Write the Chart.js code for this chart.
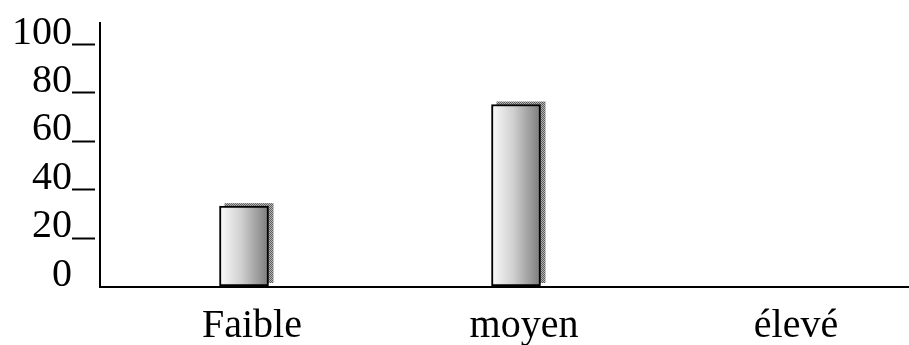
<!DOCTYPE html>
<html lang="fr">
  <head>
    <meta charset="utf-8">
    <title>Niveau</title>
    <style>
      body { margin: 0; overflow: hidden; background: #fff; }
      #wrap { width: 924px; height: 345px; }
    </style>
  </head>
  <body>
    <div id="wrap"><canvas id="myChart"></canvas></div>

    <script src="https://cdn.jsdelivr.net/npm/chart.js@4.4.0/dist/chart.umd.min.js"></script>
    <script>
      const categories = ['Faible', 'moyen', 'élevé'];
      const values = [33, 75, 0];
      const yTicks = [0, 20, 40, 60, 80, 100];

      const serif = 'Liberation Serif';

      // dithered grey used for the bar shadow
      const dots = document.createElement('canvas');
      dots.width = 2; dots.height = 2;
      const dctx = dots.getContext('2d');
      dctx.fillStyle = '#b4b4b4'; dctx.fillRect(0, 0, 2, 2);
      dctx.fillStyle = '#5e5e5e'; dctx.fillRect(0, 0, 1, 1); dctx.fillRect(1, 1, 1, 1);

      const barWidth = 49;

      const axesAndShadow = {
        id: 'axesAndShadow',
        beforeDatasetsDraw(chart) {
          const c = chart.ctx;
          const area = chart.chartArea;
          const y = chart.scales.y;
          c.save();
          c.fillStyle = c.createPattern(dots, 'repeat');
          chart.getDatasetMeta(0).data.forEach(el => {
            if (el.base - el.y < 1) return;
            c.fillRect(el.x - barWidth / 2 + 5, el.y - 3, barWidth, el.base - el.y);
          });
          c.strokeStyle = '#000';
          c.lineWidth = 2;
          // tick marks next to the labels
          yTicks.forEach(v => {
            if (v === 0) return;
            const py = Math.round(y.getPixelForValue(v)) + 0.5;
            c.beginPath();
            c.moveTo(area.left - 36, py);
            c.lineTo(area.left - 13, py);
            c.stroke();
          });
          // axes
          c.beginPath();
          c.moveTo(area.left - 8, area.top - 22);
          c.lineTo(area.left - 8, area.bottom + 1);
          c.lineTo(chart.width, area.bottom + 1);
          c.stroke();
          c.restore();
        }
      };

      const noPad = s => { s.paddingTop = 0; s.paddingBottom = 0; s.paddingLeft = 0; s.paddingRight = 0; };

      const ctx = document.getElementById('myChart').getContext('2d');
      const chart = new Chart(ctx, {
        type: 'bar',
        data: {
          labels: categories,
          datasets: [{
            data: values,
            barThickness: barWidth,
            borderColor: '#000',
            borderWidth: 2,
            borderSkipped: false,
            backgroundColor: context => {
              const ch = context.chart;
              if (!ch.chartArea) return '#ccc';
              const x = ch.scales.x.getPixelForValue(context.dataIndex);
              const g = ch.ctx.createLinearGradient(x - barWidth / 2, 0, x + barWidth / 2, 0);
              g.addColorStop(0, '#fbfbfb');
              g.addColorStop(0.45, '#cfcfcf');
              g.addColorStop(1, '#7c7c7c');
              return g;
            }
          }]
        },
        options: {
          responsive: true,
          maintainAspectRatio: false,
          animation: false,
          layout: { padding: { top: 44, left: 0, right: 0, bottom: 0 } },
          plugins: {
            legend: { display: false },
            tooltip: { enabled: false }
          },
          scales: {
            x: {
              offset: true,
              grid: { display: false, drawTicks: false },
              border: { display: false },
              ticks: {
                color: '#000',
                font: { family: serif, size: 40 },
                padding: 16,
                labelOffset: 8,
                maxRotation: 0,
                autoSkip: false
              },
              afterFit: s => { s.height = 59; noPad(s); }
            },
            y: {
              min: 0,
              max: 100,
              afterBuildTicks: s => { s.ticks = yTicks.map(v => ({ value: v })); },
              grid: { display: false, drawTicks: false },
              border: { display: false },
              ticks: {
                color: '#000',
                font: { family: serif, size: 40 },
                padding: 36,
                labelOffset: -11,
                autoSkip: false
              },
              afterFit: s => { s.width = 108; noPad(s); }
            }
          }
        },
        plugins: [axesAndShadow]
      });
    </script>
  </body>
</html>
